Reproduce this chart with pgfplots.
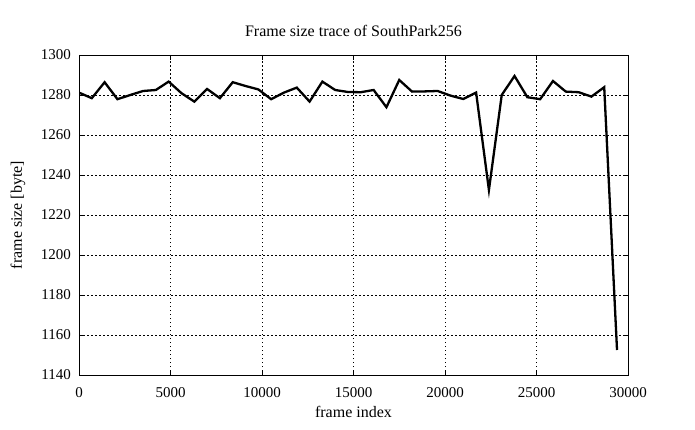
\documentclass[border=0pt]{standalone}
\usepackage{pgfplots}
\pgfplotsset{compat=1.18}
\usepackage{fontspec}
\setmainfont{Liberation Serif}
\begin{document}
\fontsize{15}{18}\selectfont
\begin{tikzpicture}[x=1pt,y=1pt]
\path[use as bounding box] (0,0) rectangle (695,429);
\begin{axis}[
  at={(79pt,54pt)}, anchor=south west,
  scale only axis, width=549pt, height=320pt,
  xmin=0, xmax=30000, ymin=1140, ymax=1300,
  xtick={0,5000,...,30000}, ytick={1140,1160,...,1300},
  scaled x ticks=false,
  /pgf/number format/assume math mode=true,
  /pgf/number format/1000 sep={},
  xticklabel style={anchor=north, inner sep=0pt, yshift=-12pt},
  yticklabel style={anchor=east, inner sep=0pt, xshift=-8pt},
  tick align=inside, major tick length=5pt,
  tick style={black, line width=0.8pt},
  axis line style={line width=0.8pt},
  grid=major,
  grid style={black, line width=0.6pt, dash pattern=on 1.5pt off 2.5pt},
  title={Frame size trace of SouthPark256},
  title style={at={(axis description cs:0.5,1.056)}, anchor=center, inner sep=0pt, font=\fontsize{16}{19}\selectfont},
  xlabel={frame index},
  xlabel style={at={(axis description cs:0.5,-0.116)}, anchor=center, inner sep=0pt, font=\fontsize{16}{19}\selectfont},
  ylabel={frame size [byte]},
  ylabel style={at={(axis description cs:-0.111,0.5)}, anchor=center, rotate=0, inner sep=0pt, font=\fontsize{16}{19}\selectfont},
]
\addplot[black, line width=2.3pt, mark=none] coordinates {
(0,1281.2) (700,1278.4) (1400,1286.4) (2100,1277.9) (2800,1280.0)
(3500,1282.0) (4200,1282.5) (4900,1286.7) (5600,1280.9) (6300,1276.7)
(7000,1283.0) (7700,1278.4) (8400,1286.4) (9100,1284.5) (9800,1282.8)
(10500,1277.9) (11200,1281.2) (11900,1283.7) (12600,1276.7) (13300,1286.7)
(14000,1282.5) (14700,1281.5) (15400,1281.4) (16100,1282.5) (16800,1273.9)
(17500,1287.5) (18200,1281.7) (18900,1281.8) (19600,1282.0) (20300,1279.7)
(21000,1278.0) (21700,1281.2) (22400,1232.5) (23100,1280.0) (23800,1289.5)
(24500,1278.9) (25200,1277.9) (25900,1287.0) (26600,1281.7) (27300,1281.4)
(28000,1279.2) (28700,1283.9) (29400,1152.5)
};
\end{axis}
\end{tikzpicture}
\end{document}
